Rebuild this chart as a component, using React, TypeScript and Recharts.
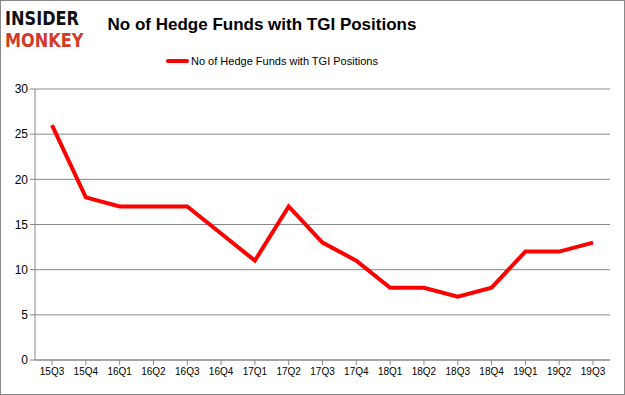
import { CartesianGrid, Line, LineChart, XAxis, YAxis } from "recharts";

const quarters = [
  "15Q3", "15Q4", "16Q1", "16Q2", "16Q3", "16Q4", "17Q1", "17Q2", "17Q3",
  "17Q4", "18Q1", "18Q2", "18Q3", "18Q4", "19Q1", "19Q2", "19Q3",
];
const fundCounts = [26, 18, 17, 17, 17, 14, 11, 17, 13, 11, 8, 8, 7, 8, 12, 12, 13];
const yTicks = [0, 5, 10, 15, 20, 25, 30];
const seriesName = "No of Hedge Funds with TGI Positions";

const datos = quarters.map((q, i) => ({ q, funds: fundCounts[i] }));

const sans = "'Liberation Sans', Arial, sans-serif";

const logoWord = {
  position: "absolute" as const,
  left: 4,
  fontFamily: "'DejaVu Sans', sans-serif",
  fontWeight: 900,
  fontSize: 19,
  lineHeight: "22px",
  transform: "scaleX(0.85)",
  transformOrigin: "left top",
};

export default function App() {
  return (
    <div
      style={{
        position: "fixed",
        top: 0,
        left: 0,
        width: 625,
        height: 395,
        background: "#fff",
        boxSizing: "border-box",
        border: "1px solid #888",
        overflow: "hidden",
      }}
    >
      {/* logo */}
      <div style={{ ...logoWord, top: 6, color: "#111" }}>INSIDER</div>
      <div style={{ ...logoWord, top: 28, color: "#d23b2a" }}>MONKEY</div>
      {/* title */}
      <div
        style={{
          position: "absolute",
          left: 0,
          width: 522,
          top: 14,
          textAlign: "center",
          fontFamily: sans,
          fontWeight: 700,
          fontSize: 17,
          color: "#000",
        }}
      >
        {seriesName}
      </div>
      {/* legend */}
      <div
        style={{
          position: "absolute",
          left: 165,
          top: 54,
          display: "flex",
          alignItems: "center",
          fontFamily: sans,
          fontSize: 11,
          color: "#000",
        }}
      >
        <span style={{ width: 23, height: 4, background: "#ff0000", borderRadius: 2, marginRight: 2 }} />
        {seriesName}
      </div>
      <div style={{ position: "absolute", left: -1, top: -1 }}>
        <LineChart
          width={625}
          height={395}
          data={datos}
          margin={{ top: 89, right: 15, left: 0, bottom: 5 }}
        >
          <CartesianGrid vertical={false} stroke="#888" />
          <XAxis
            dataKey="q"
            stroke="#888"
            tick={{ fill: "#000", fontSize: 10, fontFamily: sans }}
            tickSize={5}
            tickMargin={3}
            interval={0}
            height={30}
            padding={{ left: 17, right: 17 }}
          />
          <YAxis
            domain={[0, 30]}
            ticks={yTicks}
            width={35}
            stroke="#888"
            tick={{ fill: "#000", fontSize: 12, fontFamily: sans }}
            tickSize={5}
          />
          <Line
            type="linear"
            dataKey="funds"
            name={seriesName}
            stroke="#ff0000"
            strokeWidth={4}
            dot={false}
            isAnimationActive={false}
          />
        </LineChart>
      </div>
    </div>
  );
}
